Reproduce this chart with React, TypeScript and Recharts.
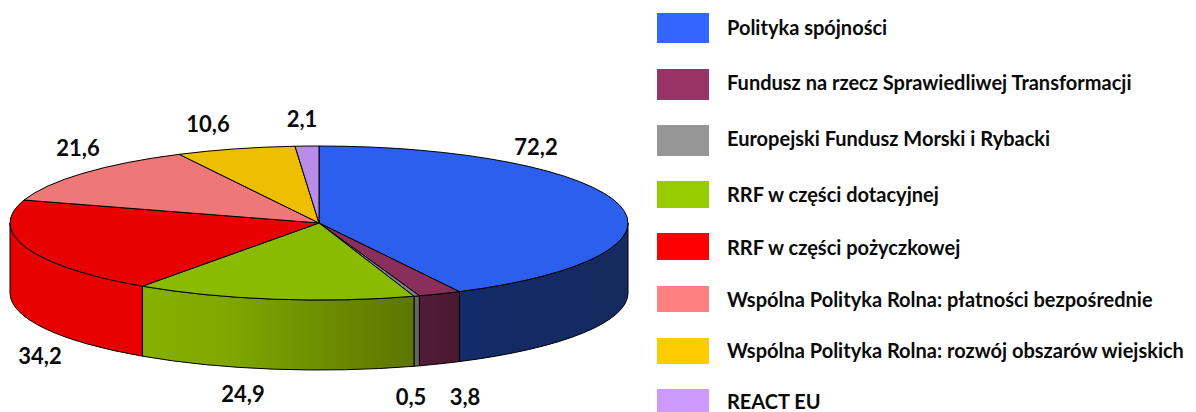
import React from "react";
import { PieChart, Pie, Legend } from "recharts";

const CATEGORIES = [
  "Polityka spójności",
  "Fundusz na rzecz Sprawiedliwej Transformacji",
  "Europejski Fundusz Morski i Rybacki",
  "RRF w części dotacyjnej",
  "RRF w części pożyczkowej",
  "Wspólna Polityka Rolna: płatności bezpośrednie",
  "Wspólna Polityka Rolna: rozwój obszarów wiejskich",
  "REACT EU",
];
const VALUES = [72.2, 3.8, 0.5, 24.9, 34.2, 21.6, 10.6, 2.1];

const LEGEND_COLORS = ["#3366ff", "#993366", "#969696", "#99cc00", "#ff0000", "#ff8080", "#ffcc00", "#cc99ff"];
const TOP_COLORS = ["#2c5fee", "#8a2e5c", "#868686", "#8bbb00", "#e90000", "#ee7777", "#eebf00", "#b98ce9"];
const WALL_LEFT = ["#132b6a", "#531c39", "#666666", "#86b000", "#e60000", "#e60000", "#e60000", "#e60000"];
const WALL_MID = ["#142a65", "#4f1b35", "#666666", "#80a800", "#e60000", "#e60000", "#e60000", "#e60000"];
const WALL_RIGHT = ["#152a5e", "#4a1a31", "#666666", "#5b7600", "#e60000", "#e60000", "#e60000", "#e60000"];

// layout constants
const CX = 319;
const CY = 223;
const RX = 309;
const RY = 77;
const DEPTH = 70;
const FONT = "Lato, sans-serif";
const LABEL_POS = [
  [536, 146], [465, 396], [411, 396], [243, 393], [40, 355], [78, 147], [208, 123], [302, 118],
];
const LEGEND_BOX = [
  [13, 30], [69, 31], [125, 31], [181, 27], [233, 27], [286, 26], [338, 26], [389, 23],
];
const LEGEND_TEXT_Y = [28, 83, 139, 195, 248, 300, 351, 402];

const rows = CATEGORIES.map((name, i) => ({ name, value: VALUES[i], fill: LEGEND_COLORS[i] }));

const pt = (t: number, dy = 0) => {
  const r = (t * Math.PI) / 180;
  return [CX + RX * Math.sin(r), CY - RY * Math.cos(r) + dy];
};

function Slice3D(props: any) {
  const name = props.name ?? props.payload?.name;
  const i = CATEGORIES.indexOf(name);
  const t0 = 90 - props.startAngle;
  const t1 = 90 - props.endAngle;
  const [x0, y0] = pt(t0);
  const [x1, y1] = pt(t1);
  const large = t1 - t0 > 180 ? 1 : 0;
  const top = `M${CX},${CY} L${x0},${y0} A${RX},${RY} 0 ${large} 1 ${x1},${y1} Z`;
  const s = Math.max(t0, 90);
  const e = Math.min(t1, 270);
  let wall: string | null = null;
  if (s < e) {
    const [ax, ay] = pt(s);
    const [bx, by] = pt(e);
    wall = `M${ax},${ay} A${RX},${RY} 0 0 1 ${bx},${by} L${bx},${by + DEPTH} A${RX},${RY} 0 0 0 ${ax},${ay + DEPTH} Z`;
  }
  const id = `wall-${i}`;
  return (
    <g>
      <defs>
        <linearGradient id={id} x1="0" y1="0" x2="1" y2="0">
          <stop offset="0" stopColor={WALL_LEFT[i]} />
          <stop offset="0.3" stopColor={WALL_MID[i]} />
          <stop offset="1" stopColor={WALL_RIGHT[i]} />
        </linearGradient>
      </defs>
      {wall && <path d={wall} fill={`url(#${id})`} stroke="#000" strokeWidth={1} />}
      <path d={top} fill={TOP_COLORS[i]} stroke="#000" strokeWidth={1} strokeLinejoin="round" />
    </g>
  );
}

function ValueLabel(props: any) {
  const [x, y] = LABEL_POS[props.index];
  return (
    <text
      x={x}
      y={y}
      textAnchor="middle"
      dominantBaseline="central"
      fontFamily={FONT}
      fontWeight={700}
      fontSize={22}
      fill="#0a0a0a"
    >
      {String(VALUES[props.index]).replace(".", ",")}
    </text>
  );
}

function LegendList() {
  return (
    <div style={{ position: "relative", width: 1196, height: 412 }}>
      {CATEGORIES.map((name, i) => (
        <React.Fragment key={name}>
          <div
            style={{
              position: "absolute",
              left: 657,
              top: LEGEND_BOX[i][0],
              width: 52,
              height: LEGEND_BOX[i][1],
              background: LEGEND_COLORS[i],
            }}
          />
          <div
            style={{
              position: "absolute",
              left: 727,
              top: LEGEND_TEXT_Y[i] - 10,
              height: 18,
              lineHeight: "18px",
              fontFamily: FONT,
              fontWeight: 700,
              fontSize: 20,
              color: "#0a0a0a",
              whiteSpace: "nowrap",
            }}
          >
            {name}
          </div>
        </React.Fragment>
      ))}
    </div>
  );
}

export default function App() {
  return (
    <div style={{ position: "fixed", left: 0, top: 0, width: 1196, height: 412, overflow: "hidden", background: "#fff" }}>
      <PieChart width={1196} height={412} margin={{ top: 0, right: 0, bottom: 0, left: 0 }}>
        <Legend
          content={<LegendList />}
          wrapperStyle={{ position: "absolute", left: 0, top: 0, width: 1196, height: 412 }}
        />
        <Pie
          data={rows}
          dataKey="value"
          nameKey="name"
          cx={CX}
          cy={CY}
          innerRadius={0}
          outerRadius={RX}
          startAngle={90}
          endAngle={-270}
          paddingAngle={0}
          isAnimationActive={false}
          shape={Slice3D}
          label={ValueLabel}
          labelLine={false}
        />
      </PieChart>
    </div>
  );
}
